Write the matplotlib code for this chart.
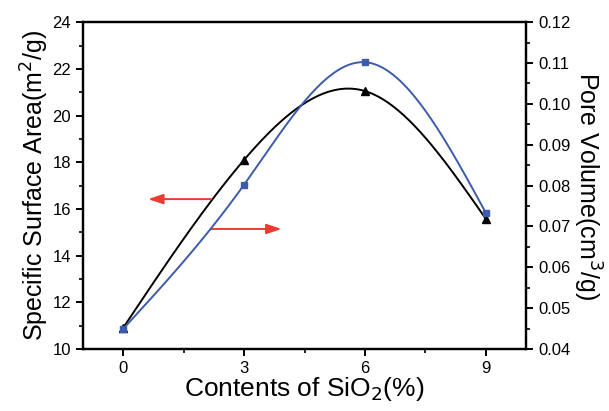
import numpy as np
import matplotlib
matplotlib.use('Agg')
import matplotlib.pyplot as plt

plt.rcParams['font.family'] = ['Liberation Sans', 'DejaVu Sans']

# data
sio2 = [0, 3, 6, 9]
surface_area = [10.9, 18.1, 21.05, 15.57]      # m2/g, left axis
pore_volume = [0.0449, 0.0802, 0.1102, 0.0733]  # cm3/g, right axis


def natural_spline(x, y, n=200):
    # small natural cubic spline so no scipy is needed
    x = np.asarray(x, float)
    y = np.asarray(y, float)
    k = len(x)
    h = np.diff(x)
    A = np.zeros((k, k))
    b = np.zeros(k)
    A[0, 0] = A[-1, -1] = 1
    for i in range(1, k - 1):
        A[i, i - 1] = h[i - 1]
        A[i, i] = 2 * (h[i - 1] + h[i])
        A[i, i + 1] = h[i]
        b[i] = 6 * ((y[i + 1] - y[i]) / h[i] - (y[i] - y[i - 1]) / h[i - 1])
    m = np.linalg.solve(A, b)
    xs = np.linspace(x[0], x[-1], n)
    idx = np.clip(np.searchsorted(x, xs) - 1, 0, k - 2)
    x0, x1 = x[idx], x[idx + 1]
    hh = x1 - x0
    t0, t1 = x1 - xs, xs - x0
    ys = (m[idx] * t0**3 + m[idx + 1] * t1**3) / (6 * hh) \
        + (y[idx] / hh - m[idx] * hh / 6) * t0 \
        + (y[idx + 1] / hh - m[idx + 1] * hh / 6) * t1
    return xs, ys


fig = plt.figure(figsize=(6.09, 4.11), dpi=100)
ax = fig.add_axes([0.136, 0.151, 0.728, 0.795])
ax2 = ax.twinx()

blue = '#3d5bab'
red = '#ee3b2f'

xs, ys = natural_spline(sio2, surface_area)
ax.plot(xs, ys, color='black', lw=1.4)
ax.plot(sio2, surface_area, '^', color='black', ms=5.5)

xs, ys = natural_spline(sio2, pore_volume)
ax2.plot(xs, ys, color=blue, lw=1.4)
ax2.plot(sio2, pore_volume, 's', color=blue, ms=4.5)

ax.set_xlim(-1, 10)
ax.set_ylim(10, 24)
ax2.set_ylim(0.04, 0.12)
ax.set_xticks(sio2)
ax.set_xticks([1.5, 4.5, 7.5], minor=True)
ax.set_yticks(np.arange(10, 25, 2))
ax.set_yticks(np.arange(11, 24, 2), minor=True)
ax2.set_yticks(np.arange(0.04, 0.121, 0.01))
ax2.set_yticks(np.arange(0.045, 0.12, 0.01), minor=True)
ax2.set_yticklabels(['%.2f' % v for v in np.arange(0.04, 0.121, 0.01)])

for a in (ax, ax2):
    for s in a.spines.values():
        s.set_linewidth(1.6)
    a.tick_params(which='major', direction='out', length=5, width=1.4, labelsize=12)
    a.tick_params(which='minor', direction='out', length=3, width=1.2)
ax.tick_params(axis='x', pad=4)

ax.set_xlabel('Contents of SiO$_2$(%)', fontsize=19, labelpad=-1)
ax.set_ylabel('Specific Surface Area(m$^2$/g)', fontsize=18, labelpad=1)
ax2.set_ylabel('Pore Volume(cm$^3$/g)', fontsize=18, rotation=-90, labelpad=24)

# red arrows pointing to each axis
ax.annotate('', xy=(0.55, 16.42), xytext=(2.25, 16.42),
            arrowprops=dict(arrowstyle='-|>,head_length=0.9,head_width=0.3', color=red, lw=1.4))
ax.annotate('', xy=(4.0, 15.14), xytext=(2.12, 15.14),
            arrowprops=dict(arrowstyle='-|>,head_length=0.9,head_width=0.3', color=red, lw=1.4))

fig.savefig('out.png', dpi=100)
